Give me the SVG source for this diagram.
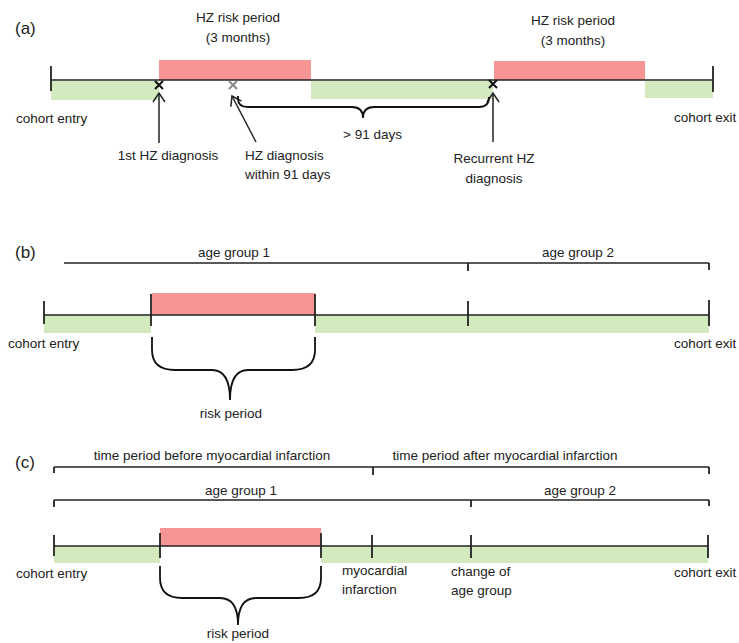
<svg xmlns="http://www.w3.org/2000/svg" width="739" height="643" viewBox="0 0 739 643">
<defs>
<style>
text{font-family:"Liberation Sans",Arial,sans-serif;font-size:13.5px;fill:#222}
.lab{font-size:17px}
.mid{text-anchor:middle}
.ln{stroke:#222;stroke-width:1.5;fill:none}
.tk{stroke:#222;stroke-width:1.8;fill:none}
.red{fill:#f79595}
.grn{fill:#d2eabd}
.br{stroke:#111;stroke-width:1.8;fill:none}
.ar{stroke:#222;stroke-width:1.5;fill:none}
</style>
<marker id="ah" markerWidth="14" markerHeight="14" refX="11" refY="7" orient="auto" markerUnits="userSpaceOnUse">
<path d="M2,1 L11,7 L2,13" fill="none" stroke="#222" stroke-width="1.5"/>
</marker>
</defs>
<rect width="739" height="643" fill="#fff"/>

<!-- Panel (a) -->
<g id="panel-a">
<text class="lab" x="15" y="34">(a)</text>
<rect class="grn" x="51" y="81" width="108" height="19"/>
<rect class="red" x="159" y="60" width="152" height="20"/>
<rect class="grn" x="311" y="81" width="182" height="18"/>
<rect class="red" x="494" y="61" width="151" height="19"/>
<rect class="grn" x="645" y="81" width="68" height="17"/>
<line class="ln" x1="51" y1="80" x2="713" y2="80"/>
<line class="tk" x1="51" y1="66" x2="51" y2="91"/>
<line class="tk" x1="713" y1="66" x2="713" y2="92"/>
<path d="M155,81 L163,89 M163,81 L155,89" stroke="#111" stroke-width="2" fill="none"/>
<path d="M229,81 L237,89 M237,81 L229,89" stroke="#888" stroke-width="2" fill="none"/>
<path d="M489,80 L497,88 M497,80 L489,88" stroke="#111" stroke-width="2" fill="none"/>
<text class="mid" x="238" y="22">HZ risk period</text>
<text class="mid" x="238" y="42">(3 months)</text>
<text class="mid" x="573" y="25">HZ risk period</text>
<text class="mid" x="573" y="45">(3 months)</text>
<text x="16" y="123">cohort entry</text>
<text x="674" y="122">cohort exit</text>
<text class="mid" x="168" y="160">1st HZ diagnosis</text>
<text x="245" y="160">HZ diagnosis</text>
<text x="245" y="179">within 91 days</text>
<text x="343" y="139">&gt; 91 days</text>
<text class="mid" x="494" y="163">Recurrent HZ</text>
<text class="mid" x="494" y="183">diagnosis</text>
</g>

<!-- Panel (b) -->
<g id="panel-b">
<text class="lab" x="15" y="258">(b)</text>
<text class="mid" x="234" y="257">age group 1</text>
<text class="mid" x="578" y="257">age group 2</text>
<line class="ln" x1="64" y1="263" x2="709" y2="263"/>
<line class="tk" x1="468" y1="263" x2="468" y2="271"/>
<line class="tk" x1="709" y1="263" x2="709" y2="270"/>
<rect class="red" x="152" y="293" width="163" height="22"/>
<rect class="grn" x="44" y="315" width="107" height="18"/>
<rect class="grn" x="315" y="315" width="394" height="18"/>
<line class="ln" x1="44" y1="315" x2="709" y2="315"/>
<line class="tk" x1="44" y1="301" x2="44" y2="324"/>
<line class="tk" x1="151" y1="294" x2="151" y2="326"/>
<line class="tk" x1="315" y1="294" x2="315" y2="326"/>
<line class="tk" x1="468" y1="301" x2="468" y2="326"/>
<line class="tk" x1="709" y1="300" x2="709" y2="326"/>
<text x="8" y="348">cohort entry</text>
<text x="674" y="348">cohort exit</text>
<text class="mid" x="231" y="418">risk period</text>
</g>

<!-- Panel (c) -->
<g id="panel-c">
<text class="lab" x="15" y="468">(c)</text>
<text class="mid" x="212" y="460">time period before myocardial infarction</text>
<text class="mid" x="505" y="460">time period after myocardial infarction</text>
<line class="ln" x1="54" y1="467" x2="709" y2="467"/>
<line class="tk" x1="54" y1="467" x2="54" y2="473"/>
<line class="tk" x1="373" y1="467" x2="373" y2="475"/>
<line class="tk" x1="709" y1="467" x2="709" y2="474"/>
<text class="mid" x="241" y="495">age group 1</text>
<text class="mid" x="580" y="495">age group 2</text>
<line class="ln" x1="54" y1="500" x2="709" y2="500"/>
<line class="tk" x1="54" y1="500" x2="54" y2="507"/>
<line class="tk" x1="471" y1="500" x2="471" y2="507"/>
<line class="tk" x1="709" y1="500" x2="709" y2="506"/>
<rect class="red" x="160" y="528" width="161" height="18"/>
<rect class="grn" x="54" y="546" width="106" height="17"/>
<rect class="grn" x="321" y="546" width="387" height="17"/>
<line class="ln" x1="54" y1="546" x2="708" y2="546"/>
<line class="tk" x1="54" y1="535" x2="54" y2="556"/>
<line class="tk" x1="160" y1="533" x2="160" y2="558"/>
<line class="tk" x1="321" y1="533" x2="321" y2="558"/>
<line class="tk" x1="372" y1="535" x2="372" y2="558"/>
<line class="tk" x1="471" y1="535" x2="471" y2="558"/>
<line class="tk" x1="708" y1="535" x2="708" y2="558"/>
<text x="16" y="578">cohort entry</text>
<text x="342" y="575">myocardial</text>
<text x="342" y="594">infarction</text>
<text x="451" y="576">change of</text>
<text x="451" y="595">age group</text>
<text x="674" y="577">cohort exit</text>
<text class="mid" x="238" y="638">risk period</text>
</g>

<!-- Connectors -->
<g id="connectors">
<line class="ar" x1="159" y1="143" x2="159" y2="93" marker-end="url(#ah)"/>
<line class="ar" x1="256" y1="142" x2="232" y2="96" marker-end="url(#ah)"/>
<line class="ar" x1="493" y1="142" x2="493" y2="93" marker-end="url(#ah)"/>
<path class="br" d="M238,96 L238,99 Q238,107 248,107 L352,107 Q363,107 363,118 Q363,107 374,107 L479,107 Q489,107 489,97"/>
<path class="br" d="M152,337 L152,350 Q152,370 175,370 L212,370 Q230,370 230,400 Q230,370 248,370 L292,370 Q315,370 315,350 L315,337"/>
<path class="br" d="M160,566 L160,578 Q160,598 182,598 L220,598 Q238,598 238,625 Q238,598 256,598 L299,598 Q321,598 321,578 L321,566"/>
</g>
</svg>
